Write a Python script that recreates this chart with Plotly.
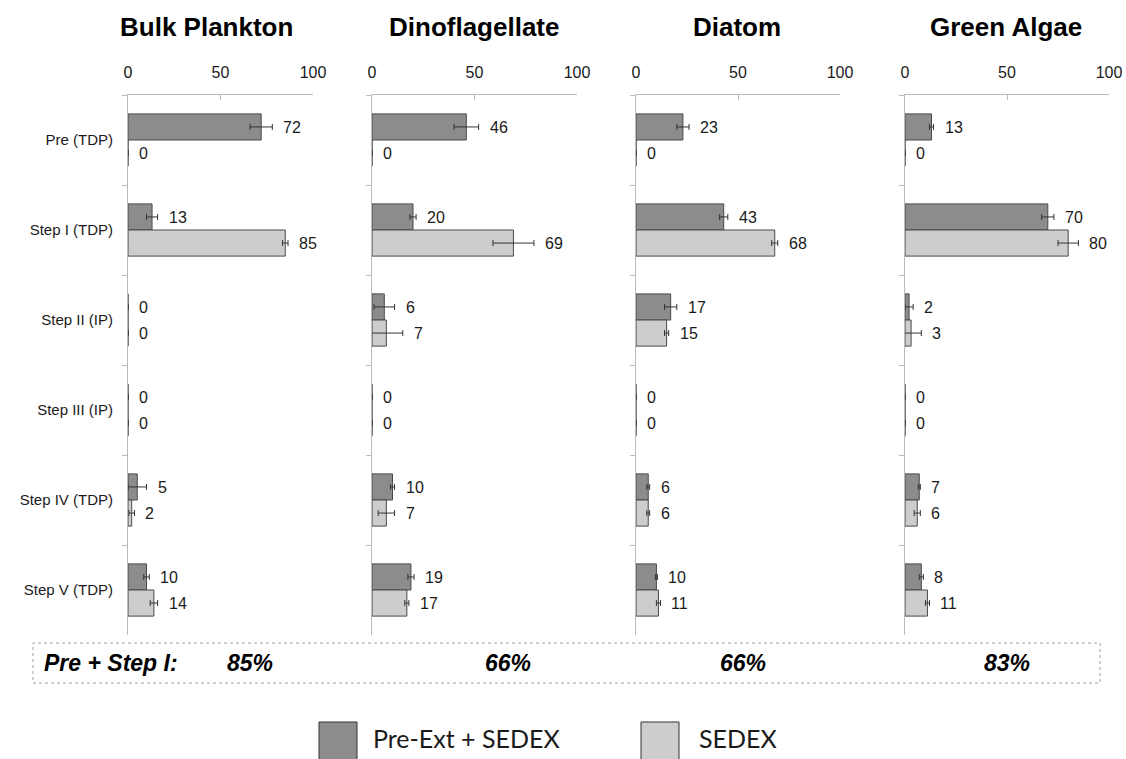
import plotly.graph_objects as go

# Fraction of total P (%) recovered in each extraction step, per sample type
categories = ["Pre (TDP)", "Step I (TDP)", "Step II (IP)", "Step III (IP)",
              "Step IV (TDP)", "Step V (TDP)"]
panels = ["Bulk Plankton", "Dinoflagellate", "Diatom", "Green Algae"]

bulk_pre_ext = [72, 13, 0, 0, 5, 10]
bulk_sedex = [0, 85, 0, 0, 2, 14]
dino_pre_ext = [46, 20, 6, 0, 10, 19]
dino_sedex = [0, 69, 7, 0, 7, 17]
diatom_pre_ext = [23, 43, 17, 0, 6, 10]
diatom_sedex = [0, 68, 15, 0, 6, 11]
green_pre_ext = [13, 70, 2, 0, 7, 8]
green_sedex = [0, 80, 3, 0, 6, 11]

bulk_pre_ext_err = [6, 3, 0, 0, 5, 1.5]
bulk_sedex_err = [0, 1.5, 0, 0, 1.5, 2]
dino_pre_ext_err = [6, 1.5, 5, 0, 1, 1.5]
dino_sedex_err = [0, 10, 8, 0, 4, 1]
diatom_pre_ext_err = [3, 2, 3, 0, 0.7, 0.5]
diatom_sedex_err = [0, 1.5, 1, 0, 0.7, 1]
green_pre_ext_err = [1, 3, 2, 0, 0.5, 1]
green_sedex_err = [0, 5, 5, 0, 1.5, 1]

pre_plus_step1 = ["85%", "66%", "66%", "83%"]
x_ticks = [0, 50, 100]

W, H = 1126, 759
FONT = "Liberation Sans, Arial, sans-serif"
DARK, LIGHT, EDGE = "#8c8c8c", "#cdcdcd", "#4a4a4a"

series = [
    (bulk_pre_ext, bulk_pre_ext_err, bulk_sedex, bulk_sedex_err),
    (dino_pre_ext, dino_pre_ext_err, dino_sedex, dino_sedex_err),
    (diatom_pre_ext, diatom_pre_ext_err, diatom_sedex, diatom_sedex_err),
    (green_pre_ext, green_pre_ext_err, green_sedex, green_sedex_err),
]

# panel extents in pixels
x_px = [(128, 313), (372, 577), (636, 840), (905, 1109)]
title_cx = [206, 474, 737, 1006]
y_top, y_bot = 95, 635
y_dom = [1 - y_bot / H, 1 - y_top / H]

fig = go.Figure()
annotations = []
layout = {}

for i, (name, (pe, pe_err, sx, sx_err)) in enumerate(zip(panels, series)):
    n = "" if i == 0 else str(i + 1)
    xa, ya = "x" + n, "y" + n
    for vals, errs, color, label, dy in ((pe, pe_err, DARK, "Pre-Ext + SEDEX", 13),
                                          (sx, sx_err, LIGHT, "SEDEX", -13)):
        fig.add_trace(go.Bar(
            y=categories, x=vals, orientation="h", name=label,
            marker=dict(color=color, line=dict(color=EDGE, width=1)),
            error_x=dict(type="data", array=errs, visible=True,
                         color="#333333", thickness=1, width=3),
            xaxis=xa, yaxis=ya, showlegend=False,
        ))
        for c, v, e in zip(categories, vals, errs):
            annotations.append(dict(
                x=v + e, y=c, xref=xa, yref=ya, text=str(v), showarrow=False,
                xanchor="left", yanchor="middle", xshift=9, yshift=dy,
                font=dict(family=FONT, size=16, color="#1a1a1a"),
            ))

    x0, x1 = x_px[i]
    layout["xaxis" + n] = dict(
        domain=[x0 / W, x1 / W], range=[0, 100], anchor=ya, side="top",
        tickvals=x_ticks, ticks="inside", ticklen=5, tickcolor="#bbbbbb",
        showline=True, linecolor="#bbbbbb", linewidth=1, showgrid=False,
        zeroline=False, tickfont=dict(family=FONT, size=16, color="#1a1a1a"),
        ticklabelstandoff=10, automargin=False, fixedrange=True,
    )
    layout["yaxis" + n] = dict(
        domain=y_dom, anchor=xa, autorange="reversed", type="category",
        categoryorder="array", categoryarray=categories,
        tickson="boundaries", ticks="outside", ticklen=5, tickcolor="#bbbbbb",
        showline=True, linecolor="#bbbbbb", linewidth=1, showgrid=False,
        showticklabels=(i == 0), ticklabelstandoff=11, automargin=False,
        tickfont=dict(family=FONT, size=15, color="#1a1a1a"), fixedrange=True,
    )

    # panel title
    annotations.append(dict(
        x=title_cx[i] / W, y=1 - 27 / H,
        xref="paper", yref="paper", text="<b>%s</b>" % name, showarrow=False,
        xanchor="center", yanchor="middle",
        font=dict(family=FONT, size=26, color="#000000"),
    ))

# summary row
annotations.append(dict(
    x=42 / W, y=1 - 663 / H, xref="paper", yref="paper",
    text="<b><i>Pre + Step I:</i></b>", showarrow=False,
    xanchor="left", yanchor="middle",
    font=dict(family=FONT, size=23, color="#000000"),
))
for cx, txt in zip([250, 508, 743, 1007], pre_plus_step1):
    annotations.append(dict(
        x=cx / W, y=1 - 663 / H, xref="paper", yref="paper",
        text="<b><i>%s</i></b>" % txt, showarrow=False,
        xanchor="center", yanchor="middle",
        font=dict(family=FONT, size=23, color="#000000"),
    ))

shapes = [dict(
    type="rect", xref="paper", yref="paper",
    x0=33 / W, x1=1100 / W, y0=1 - 683 / H, y1=1 - 643 / H,
    line=dict(color="#a0a0a0", width=1, dash="dot"), fillcolor="rgba(0,0,0,0)",
)]

# legend keys
for lx, color, txt, tx in ((319, DARK, "Pre-Ext + SEDEX", 371), (641, LIGHT, "SEDEX", 697)):
    shapes.append(dict(
        type="rect", xref="paper", yref="paper",
        x0=lx / W, x1=(lx + 38) / W, y0=1 - 770 / H, y1=1 - 722 / H,
        line=dict(color="#333333", width=1), fillcolor=color,
    ))
    annotations.append(dict(
        x=tx / W, y=1 - 738 / H, xref="paper", yref="paper", text=txt,
        showarrow=False, xanchor="left", yanchor="middle",
        font=dict(family="Lato, Open Sans, sans-serif", size=25, color="#1a1a1a"),
    ))

fig.update_layout(
    width=W, height=H, margin=dict(l=0, r=0, t=0, b=0, autoexpand=False),
    paper_bgcolor="white", plot_bgcolor="white",
    barmode="group", bargap=0.42, bargroupgap=0,
    annotations=annotations, shapes=shapes, **layout,
)

fig.write_html("out.html")
